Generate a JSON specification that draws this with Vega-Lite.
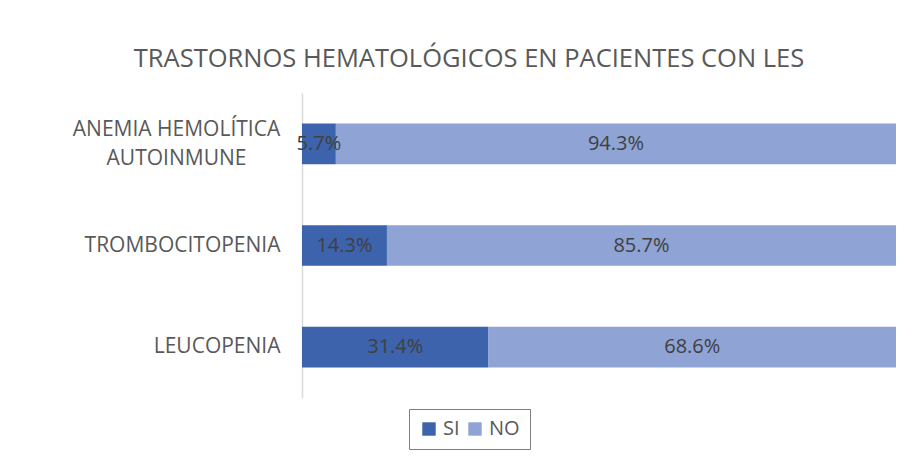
{
  "$schema": "https://vega.github.io/schema/vega-lite/v6.json",
  "autosize": {"type": "none"},
  "width": 594,
  "height": 305,
  "padding": {"left": 302, "top": 93, "right": 20, "bottom": 70},
  "background": "white",
  "title": {
    "text": "TRASTORNOS HEMATOLÓGICOS EN PACIENTES CON LES",
    "font": "Open Sans",
    "fontSize": 25.5,
    "fontWeight": "normal",
    "color": "#595959",
    "anchor": "middle",
    "dx": -130,
    "offset": 21
  },
  "data": {
    "values": [
      {"trastorno": "ANEMIA HEMOLÍTICA AUTOINMUNE", "respuesta": "SI", "orden": 1, "pct": 0.057},
      {"trastorno": "ANEMIA HEMOLÍTICA AUTOINMUNE", "respuesta": "NO", "orden": 2, "pct": 0.943},
      {"trastorno": "TROMBOCITOPENIA", "respuesta": "SI", "orden": 1, "pct": 0.143},
      {"trastorno": "TROMBOCITOPENIA", "respuesta": "NO", "orden": 2, "pct": 0.857},
      {"trastorno": "LEUCOPENIA", "respuesta": "SI", "orden": 1, "pct": 0.314},
      {"trastorno": "LEUCOPENIA", "respuesta": "NO", "orden": 2, "pct": 0.686}
    ]
  },
  "encoding": {
    "y": {
      "field": "trastorno",
      "type": "nominal",
      "sort": ["ANEMIA HEMOLÍTICA AUTOINMUNE", "TROMBOCITOPENIA", "LEUCOPENIA"],
      "scale": {"paddingInner": 0.6, "paddingOuter": 0.3},
      "axis": {
        "title": null,
        "ticks": false,
        "domain": true,
        "domainColor": "#d9d9d9",
        "domainWidth": 1.5,
        "labelFont": "Open Sans",
        "labelFontSize": 21,
        "labelColor": "#595959",
        "labelLineHeight": 29,
        "labelLimit": 300,
        "labelAlign": {"condition": {"test": "datum.value == 'ANEMIA HEMOLÍTICA AUTOINMUNE'", "value": "center"}, "value": "right"},
        "labelPadding": {"condition": {"test": "datum.value == 'ANEMIA HEMOLÍTICA AUTOINMUNE'", "value": 126}, "value": 22},
        "labelOffset": {"condition": {"test": "datum.value == 'ANEMIA HEMOLÍTICA AUTOINMUNE'", "value": -14}, "value": 0},
        "labelExpr": "datum.value == 'ANEMIA HEMOLÍTICA AUTOINMUNE' ? ['ANEMIA HEMOLÍTICA', 'AUTOINMUNE'] : datum.value"
      }
    },
    "x": {
      "field": "pct",
      "type": "quantitative",
      "stack": "normalize",
      "axis": null
    },
    "order": {"field": "orden", "type": "quantitative"}
  },
  "layer": [
    {
      "mark": {"type": "bar"},
      "encoding": {
        "color": {
          "field": "respuesta",
          "type": "nominal",
          "sort": ["SI", "NO"],
          "scale": {"domain": ["SI", "NO"], "range": ["#3c63ab", "#8fa3d4"]},
          "legend": {
            "title": null,
            "orient": "none",
            "legendX": 107,
            "legendY": 316,
            "direction": "horizontal",
            "symbolType": "square",
            "symbolSize": 180,
            "symbolStrokeWidth": 0,
            "labelFont": "Open Sans",
            "labelFontSize": 20,
            "labelColor": "#595959",
            "columnPadding": 5,
            "labelOffset": 4,
            "strokeColor": "#7f7f7f",
            "padding": 10
          }
        }
      }
    },
    {
      "mark": {"type": "text", "font": "Open Sans", "fontSize": 20, "color": "#404040"},
      "encoding": {
        "x": {"field": "pct", "type": "quantitative", "stack": "normalize", "bandPosition": 0.5},
        "text": {"field": "pct", "type": "quantitative", "format": ".1%"}
      }
    }
  ],
  "config": {"view": {"stroke": null}}
}
